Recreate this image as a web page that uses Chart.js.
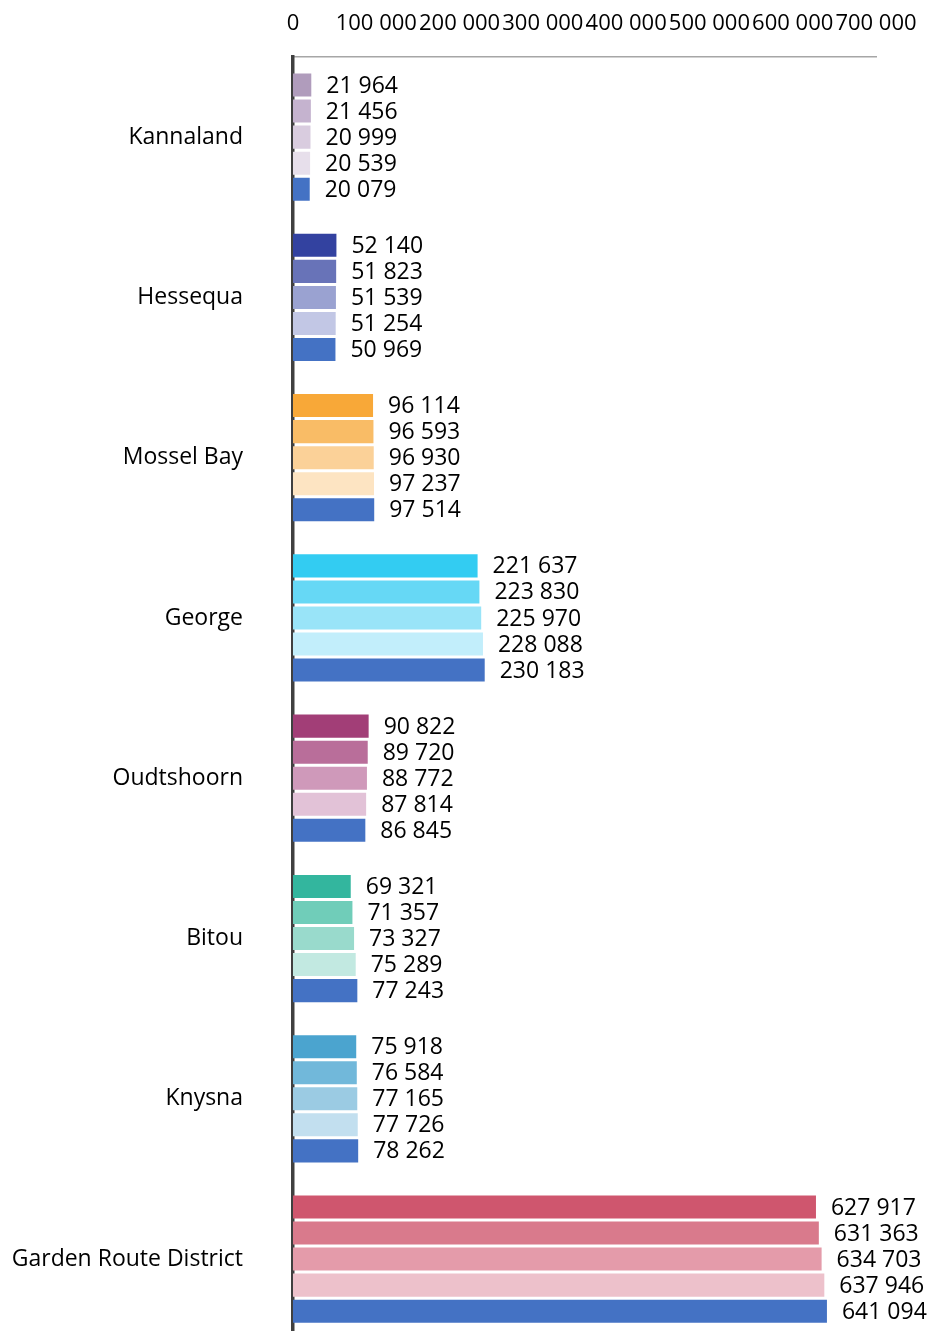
<!DOCTYPE html>
<html>
<head>
<meta charset="utf-8">
<script src="https://cdn.jsdelivr.net/npm/chart.js@4.4.1/dist/chart.umd.min.js"></script>
<style>
  html, body { margin: 0; padding: 0; background: #fff; overflow: hidden; }
  #wrap { width: 930px; height: 1353px; }
</style>
</head>
<body>
<div id="wrap"><canvas id="myChart" width="930" height="1353"></canvas></div>
<script>
const categories = ['Kannaland', 'Hessequa', 'Mossel Bay', 'George', 'Oudtshoorn', 'Bitou', 'Knysna', 'Garden Route District'];
const seriesNames = ['2020', '2021', '2022', '2023', '2024'];

const s1 = [21964, 52140, 96114, 221637, 90822, 69321, 75918, 627917];
const s2 = [21456, 51823, 96593, 223830, 89720, 71357, 76584, 631363];
const s3 = [20999, 51539, 96930, 225970, 88772, 73327, 77165, 634703];
const s4 = [20539, 51254, 97237, 228088, 87814, 75289, 77726, 637946];
const s5 = [20079, 50969, 97514, 230183, 86845, 77243, 78262, 641094];

const xTicks = [0, 100000, 200000, 300000, 400000, 500000, 600000, 700000];

// one palette per municipality, last series is always the same blue
const c1 = ['#B09CBC', '#3342A0', '#F8A838', '#33CCF2', '#A23E77', '#33B69E', '#4BA4CF', '#CF566E'];
const c2 = ['#C5B3CF', '#6873B8', '#F9BC66', '#66D8F5', '#B96E9A', '#70CDB9', '#71B8DA', '#D97A8C'];
const c3 = ['#D9CCDF', '#9AA2D1', '#FBD198', '#99E4F8', '#CF99BA', '#99DACC', '#9BCBE3', '#E49BAA'];
const c4 = ['#E7DFEB', '#C2C7E5', '#FDE4C2', '#C2EEFB', '#E2C2D7', '#C2E9E1', '#C2DFEF', '#EDC1CB'];
const c5 = '#4472C4';

const fmt = v => String(v).replace(/\B(?=(\d{3})+(?!\d))/g, ' ');

const valueLabels = {
  id: 'valueLabels',
  afterDatasetsDraw(chart) {
    const ctx = chart.ctx;
    ctx.save();
    ctx.font = '23px "Open Sans"';
    ctx.fillStyle = '#000';
    ctx.textAlign = 'left';
    ctx.textBaseline = 'middle';
    chart.data.datasets.forEach((ds, i) => {
      chart.getDatasetMeta(i).data.forEach((bar, j) => {
        ctx.fillText(fmt(ds.data[j]), bar.x + 15, bar.y + 1);
      });
    });
    ctx.restore();
  }
};

const allSeries = [s1, s2, s3, s4, s5];
const allColors = [c1, c2, c3, c4, c5];

new Chart(document.getElementById('myChart'), {
  type: 'bar',
  data: {
    labels: categories,
    datasets: allSeries.map((s, i) => ({
      label: seriesNames[i],
      data: s,
      backgroundColor: allColors[i],
      categoryPercentage: 0.8125,
      barPercentage: 0.885
    }))
  },
  options: {
    indexAxis: 'y',
    responsive: false,
    animation: false,
    layout: { padding: { right: 54, bottom: 1, top: 0, left: 0 } },
    plugins: {
      legend: { display: false },
      tooltip: { enabled: false }
    },
    scales: {
      x: {
        position: 'top',
        min: 0,
        max: 700000,
        afterBuildTicks: scale => { scale.ticks = xTicks.map(v => ({ value: v })); },
        afterFit: scale => { scale.height = 57; },
        // tick marks are not drawn, tickLength only pushes the labels away
        grid: { display: false, drawTicks: true, tickLength: 20 },
        border: { display: true, color: '#A6A6A6', width: 1.5 },
        ticks: {
          padding: 0,
          maxRotation: 0,
          autoSkip: false,
          color: '#000',
          font: { family: 'Open Sans', size: 22 },
          callback: v => fmt(v)
        }
      },
      y: {
        z: 1, // axis line on top of the bars
        afterFit: scale => { scale.width = 293; },
        grid: { display: false, drawTicks: true, tickLength: 50 },
        border: { display: true, color: '#404040', width: 3.5 },
        ticks: {
          padding: 0,
          color: '#000',
          font: { family: 'Open Sans', size: 23 }
        }
      }
    }
  },
  plugins: [valueLabels]
});
</script>
</body>
</html>
